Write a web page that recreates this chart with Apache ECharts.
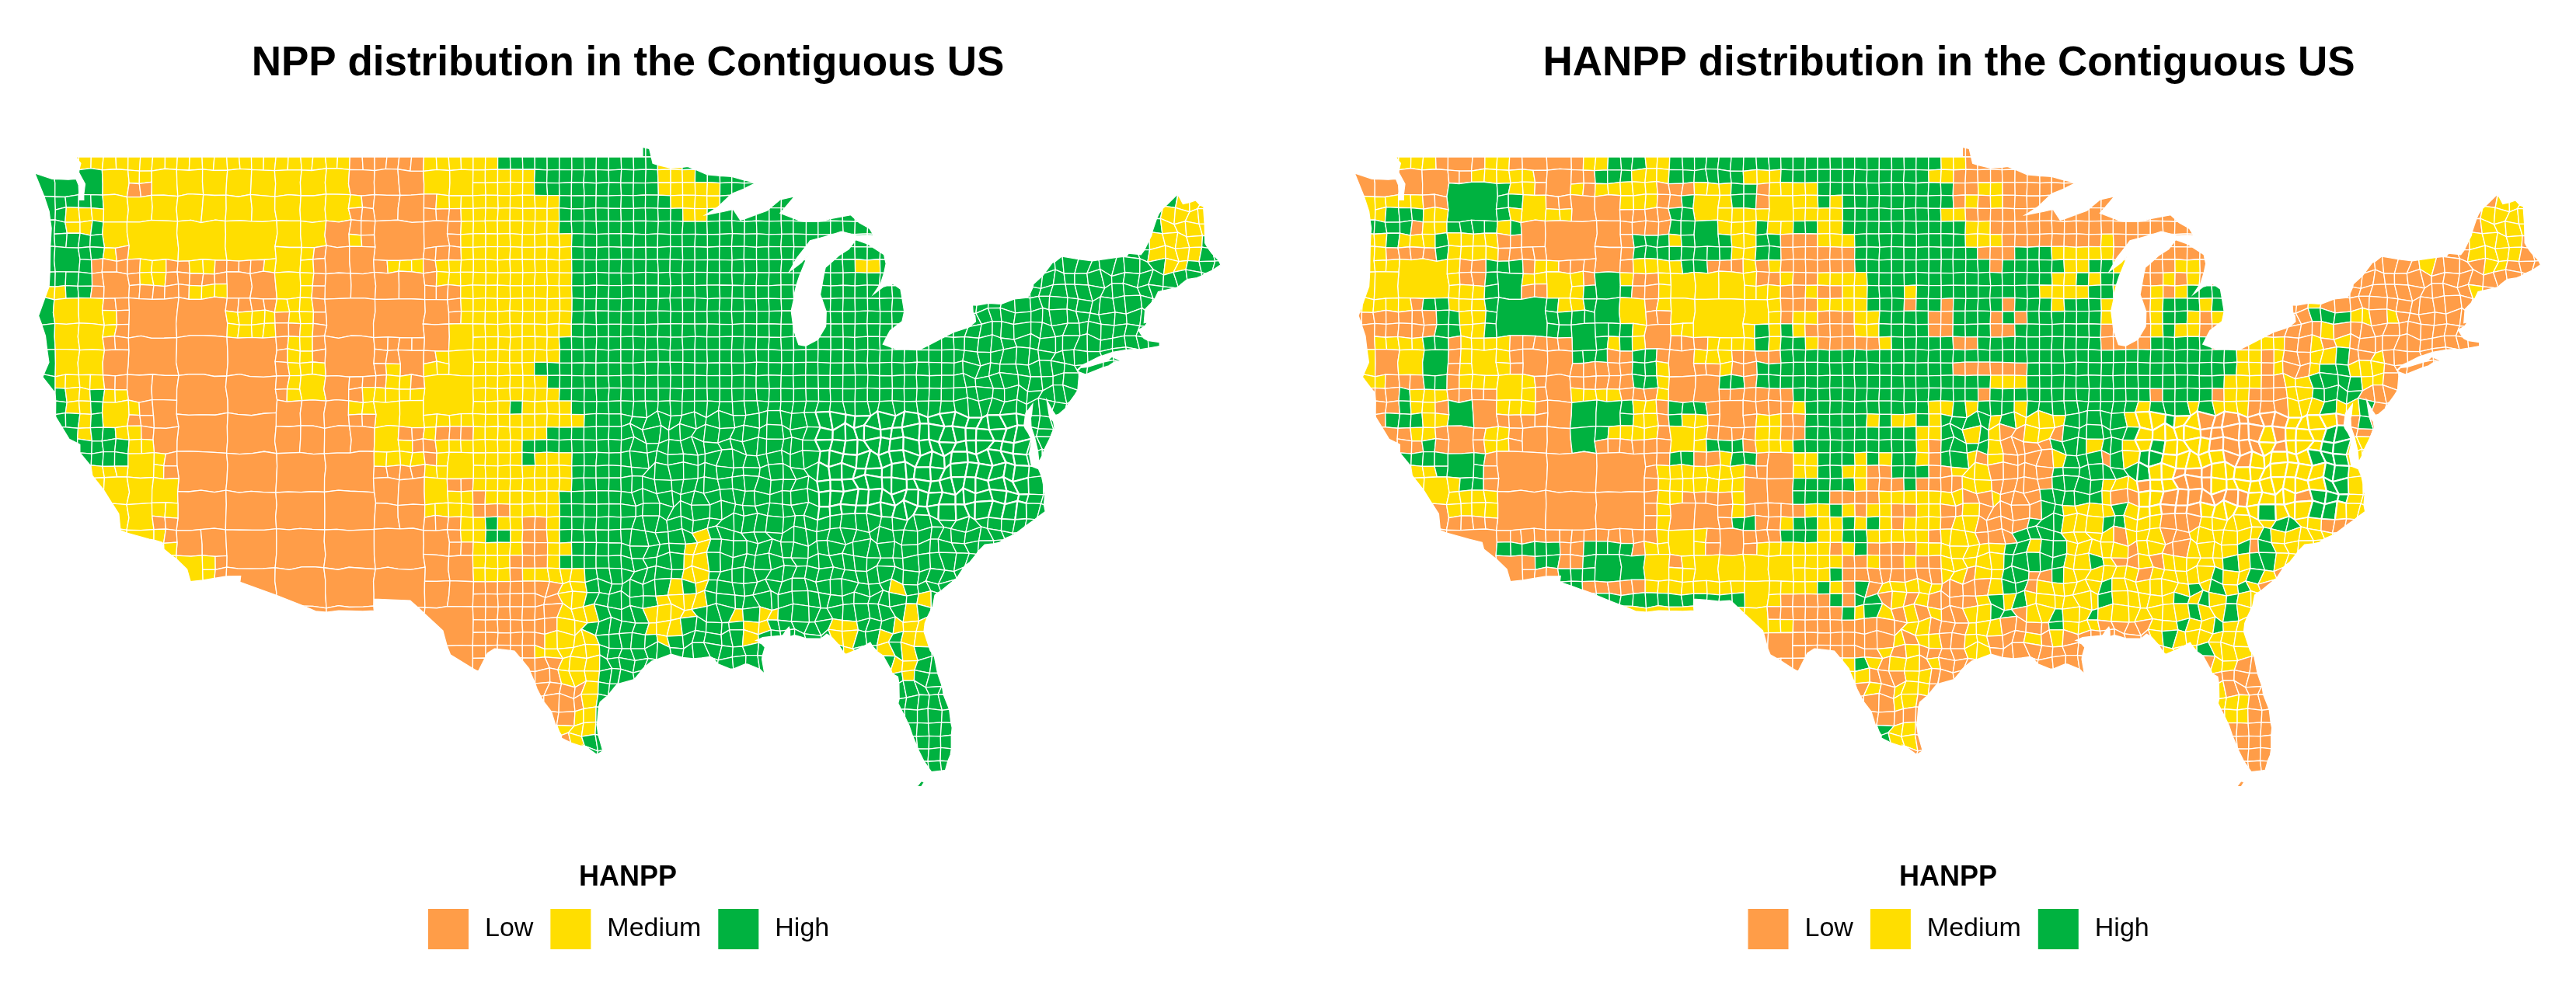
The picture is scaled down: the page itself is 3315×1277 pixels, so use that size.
<!DOCTYPE html>
<html><head><meta charset="utf-8">
<style>html,body{margin:0;padding:0;background:#fff}#c{width:3315px;height:1277px}</style>
<script src="https://cdn.jsdelivr.net/npm/echarts@6/dist/echarts.min.js"></script>
</head><body><div id="c"></div>
<script>
const classNames = ['Low','Medium','High'];
const classColors = ['#FF9D48','#FFDE00','#00B240'];
const panelTitles = ['NPP distribution in the Contiguous US','HANPP distribution in the Contiguous US'];
const legendTitle = 'HANPP';

// coastline and borders, [lon, lat]
const mainland = [[-124.73,48.38],[-123.9,48.16],[-123.1,48.15],[-122.75,48.15],[-122.65,47.9],[-122.55,47.3],[-122.35,47.3],[-122.35,47.95],[-122.6,48.4],[-122.5,48.75],[-122.75,49],[-95.15,49],[-95.15,49.38],[-94.82,49.32],[-94.65,48.75],[-93.8,48.55],[-92.95,48.62],[-92,48.3],[-90.8,48.23],[-89.6,48],[-90.8,47.55],[-91.5,47.05],[-92.1,46.75],[-91.2,46.87],[-90.75,46.95],[-90.4,46.55],[-89.1,46.9],[-88.45,47.35],[-87.75,47.45],[-88.45,46.8],[-87.4,46.5],[-86.5,46.5],[-85,46.75],[-84.6,46.45],[-84.1,46.2],[-83.9,45.95],[-84.7,45.95],[-85.5,46.08],[-86.5,45.85],[-87,45.75],[-87.6,45.1],[-88,44.55],[-87.4,44.9],[-87.05,45.25],[-87.5,44.4],[-87.75,43.7],[-87.9,43],[-87.8,42.3],[-87.55,41.7],[-87.2,41.65],[-86.6,41.9],[-86.25,42.4],[-86.2,43],[-86.5,43.65],[-86.25,44.7],[-85.6,45.15],[-85.1,45.4],[-84.75,45.78],[-84.2,45.62],[-83.4,45.2],[-83.3,44.85],[-83.55,44.05],[-83.9,43.65],[-83.4,43.95],[-82.95,44.07],[-82.6,43.85],[-82.42,43],[-82.5,42.6],[-83.1,42.25],[-83.45,41.72],[-82.7,41.5],[-81.7,41.5],[-80.5,41.97],[-79,42.65],[-78.9,42.9],[-79.05,43.27],[-77.6,43.27],[-76.5,43.5],[-76.2,44.1],[-75.3,44.85],[-74.7,45],[-71.5,45],[-71.4,45.25],[-70.85,45.25],[-70.3,45.9],[-70,46.7],[-69.23,47.46],[-68.9,47.18],[-68.3,47.35],[-67.8,47.07],[-67.8,45.7],[-67.45,45.3],[-67,44.85],[-68.2,44.3],[-69,44.1],[-70,43.8],[-70.7,43.05],[-70.8,42.6],[-70.6,42.65],[-71,42.3],[-70.6,41.95],[-70,41.78],[-70,41.65],[-70.65,41.55],[-71.4,41.45],[-72.9,41.25],[-73.65,41],[-74,40.7],[-74,40.4],[-74.1,39.75],[-74.9,38.95],[-75.5,39.5],[-75.1,38.8],[-75.2,38],[-75.95,37.15],[-76,37.9],[-76.2,38.9],[-76.1,39.4],[-76.45,39.1],[-76.45,38.4],[-76.3,37.9],[-76.3,37],[-75.98,36.9],[-75.5,35.25],[-76.5,34.65],[-77.9,33.9],[-78.55,33.85],[-79.2,33.2],[-80,32.55],[-81,31.9],[-81.4,30.8],[-81.25,29.8],[-80.55,28.45],[-80.03,26.8],[-80.15,25.75],[-80.4,25.15],[-81.1,25.12],[-81.75,25.95],[-82.2,26.9],[-82.75,27.8],[-82.65,28.8],[-83.4,29.5],[-84,30.1],[-85.3,29.68],[-86.2,30.4],[-87.5,30.3],[-88,30.25],[-88,30.65],[-88.3,30.35],[-89.4,30.3],[-89.7,30.15],[-89.3,29.9],[-89.4,29.4],[-89.1,29],[-90.1,29.15],[-90.9,29.1],[-91.8,29.5],[-92.3,29.55],[-93.8,29.7],[-94.7,29.4],[-95.2,28.95],[-96.4,28.4],[-97.2,27.7],[-97.35,26.9],[-97.15,25.96],[-97.4,25.84],[-98.2,26.05],[-99.1,26.4],[-99.5,27.5],[-100.3,28.3],[-100.7,29.1],[-101.4,29.77],[-102.35,29.87],[-102.7,29.7],[-103.15,28.98],[-104.5,29.65],[-104.9,30.6],[-106.5,31.75],[-108.2,31.78],[-108.2,31.33],[-111.07,31.33],[-114.8,32.5],[-114.72,32.72],[-117.12,32.53],[-117.3,33],[-118.4,33.75],[-118.5,34.03],[-119.2,34.15],[-120.5,34.45],[-120.65,35.15],[-121.9,36.6],[-122,36.95],[-122.5,37.5],[-122.5,37.8],[-123,38],[-123.7,38.9],[-123.8,39.8],[-124.4,40.4],[-124.1,41],[-124.2,42],[-124.55,42.85],[-124.1,44],[-123.95,46.2],[-124.1,46.9]];
const longIsland = [[-74.03,40.6],[-73.75,40.87],[-72.6,40.98],[-72.3,41.15],[-71.9,41.05],[-72.5,40.82],[-73.5,40.58]];
const keyWest = [[-81.85,24.55],[-81.6,24.75],[-81.45,24.72],[-81.6,24.55]];

// rows from 49.5N, 0.5 degrees each; "12M" = class M from column 12 (0.6 degrees each from 125W)
const nppRows = ["0H","0M26L32M38H51M53H","0H6M26L32M41H51M54H","0H6M8L10M26L32M41H51M56H","0H6M27L33M43H52M56H93M96H","0H3M26L35M43H53M55H92M96H","0H3M5H6M24L35M43H92M96H","0H6M24L26M27L35M44H91M95H","0H6M7L8M23L35M44H91M95H","0H5L9M11L13M15L19M23L29M32L33M44H67M69H92M94H","0H5L9M11L20M23L33M44H","0M3H5L13M16L20M23L35M44H","0H2M6L20M23L35M44H","0H2M7L16M20L21M23L35M44H","0H2M7L16M20L22M23L34M44H","0H2M6L21M23L34M43H","0H2M6L21M23L33M43H","0H2M6L21M24L29M30L32M41H","0H2M6L21M24L29M31L32M42H","0H3M5H6M8L21M24L27M43H","0H3M5H6M9L26M39H40M44H","0H4M5H6M8L28M45H","0H4M5H7M9L28M30L32M33L36M42H","0H8M10L28M31L33M40H","0H8M11L28M32L33M40H41M44H","0M11L32M44H","0M12L32M34L36M44H","0M12L32M36L37M43H","0M12L32M36L39M43H","0M10L35M37H38M40L42M43H","0M11L35M37H39M40L42M43H54M55H","0M12L36M40L42M44H53M55H","0M15L36M39L42M43H53M55H","0M15L36M39L40M45H53M55H","0L43M45H52M53H54M55H70M71H","0L43M45H51M55H72M73H","0L43M46H50M54H57M58H59M61H71M72H","0L43M45H50M53H58M60H65M67H70M73H","0L42M46H51M52H58M59H65M67H69M70H71M73H","0L41M46H66M67H69M70H71M72H","0L43M46H70M72H","0L43M46H71M72H","0L45M46H","0L45M46H","0L44M46H","0L43M46H","0L44M45H","0H","0H","0H"];
const hanppRows = ["0L","0M7L11M13L19M21H24M26H48M50L","0L10M15L20H23M26H32M35H47M49L","0L8H13M15L18M19L20M25L28M31H33L34M38H48H49L51M53L","0M6L8H14M16L22M25L27H28M31H33L34M38H39M40H48H49L50M51L52M53L93M96L","0M3H6M8H13M18L26H28M40H48M50L92M96L","0H5L6M8H12M13H14L26H30M33H34M36H38M40H50M52L92M96L","0M3H4M7H8M12L23H26M27H31M33H35L38M41H50M53L61M62L91M95L","0M3L7H8M12L23H31M33H35L41H51L54H57M62L91M95L","0M9L11H14L15M17L23M27H29L32M33L34M35L41H52L53H58M60H62M63L67M69L87M88L92M94L","0M9L11H14M19L20H22M23L25M33L35M36L38M42H57M59H60M61H63L66M67L68M69L","0M11H14L16M19H23L25M35L37M38L40M42H45M46H56M60H62M63L65M66L67M68H71L91M92L","0M5L6H8M11H17M19H22M24L25M35L38M42H45L46H48L49H53L54H57M58H61M62L65M66H69M70H71L78M79L","0L7H9M11H22M24L26M35L36M38L41M43H47L49H52L53H54L55H61M62L65M66H68M69L70M71L78H81M83L84M85L","0L7H9M11H23M24L26M33H34M35H36M37L41M43H47L48L49H52L54H61L65M66H67M69L79M80L","0L2M6H8L9M13L18H21M22H23M24L29M33H34M35H37M38L43M44H49L51H61L65H70L73M76L78M79L80M81L","0M2L4M6H8L9M13L18H21L23H25L28M31L35H72M74L75M76L78M80H81L83M84L","0M2L4M6H8L9M13L23H25M26L30M31L33H49L55H72M74L75M76L78M79H81M84L","0M3L6H8L9M15L23H25M26L30H32L33H52M55H71M74L76M78H82M84L","0L4H5M8L12M15L18M22L25M26L36H51L52H65L66H70L71M73L76M78H82L","0L4H5M7L8H10L12M15L18H23M25L26H29L36M37H47M49H50M51H54M55H64M65H68M69H70M73L76M79H80M82H83L","0L3H6M8H10L18H23M25L26H27M29L33M35L37H42M43H44M46H47M48H52M53H54M58H63M66H67M69L76M80L82H83L","0L5M7L11M13L18H21M25L26M29L33M35L37H46M48L48H50M51H52M53L55M57L58H64M69L74M75L76M79H81L","0L6H7L11M13L18H20L26M29H32L33M36H46M47L48H52M53L57H60M61H63M65H66M70L74M75L76M78M79H81M","0H11L26H28L30M31H33L36M38H41M42H43M44H46M47L48H50M51L52M53L57M58H61L62H63M64H66M71L73M78H79H81M","0M7H11L25M32L36M38H40M42L44H47L49M52L57H65M67L70M79H81M","0M9H11L25M32L36H41M42L45H46L50M52L57H61M64L65M67L70M79H81M","0M12L25M27L31M32L36H39L43M48M50L52M53L56H61M62L64M66L73M77L78H81M","0L8M12L25M26L31M32L37M39H40M41L42M44L46M48L50M51L56H58M62H63M66L69M74H75M78H80M","0L25M26L31H33L35M36H38M40H41M42H43M44L45M48L49M51L55H58M61H63M66L69M75H77M79L","0L25M29L35H38M40H42M47L48M51L54H58M62L63M66L68M74H75M","0L12H17L19H23L24M29L33M39L40M41H42L46M53H55M56H58M63L64M66L68M72H73L74H75M","0L15H17L19H24M26L27M40L42M43L45M46L48M53H58M60H61M62L64M65L66M71H72M73H75M","0L17H24M39H40L48M50L51M53H55L57H58M64L65M70H71M73H74M75L","0L17H19L24M38H39M40L41H42L43M48L52M53H55L56M61H62M68H69M70H71M72H73M74L","0H32M35L39H40L41H43L44M45L46M47L51M52H53M54H55M61H62M67H68M69H70M71H72M","0M34L40H41M42H43M44L45M46L47M48L50M52H54L55M57H58M60H61M68H69M71H72M","0M36L45M47L48L50M53L57H58M61L65M67H68M70H71M","0L44M45L46M48L50M52L55M56L57M58L65M66H67M","0L43M44L45M46L50M52L66M69H70M","0L40M41H42M43L44M46L47M48L70M72L","0M42L45M47L","0L42M43L44M47L70M71L","0L44M46L70M73L","0L71M73L","0M43H44M46L","0H44M46L","0L","0L","0L"];

const LON0=-125, LAT0=49.5, DLON=0.6, DLAT=0.5, NCOL=98, NROW=50;
const CODE={L:0,M:1,H:2};

function decodeRows(rows){
  return rows.map(s=>{
    const a=new Array(NCOL).fill(0);
    for(const m of s.matchAll(/(\d+)([LMH])/g)){
      for(let c=+m[1];c<NCOL;c++)a[c]=CODE[m[2]];
    }
    return a;
  });
}
// Sutherland-Hodgman: coastline clipped to a grid rectangle
function clipRect(poly,x0,x1,y0,y1){
  const edges=[[p=>p[0]>=x0,(a,b)=>{const t=(x0-a[0])/(b[0]-a[0]);return [x0,a[1]+t*(b[1]-a[1])]}],
               [p=>p[0]<=x1,(a,b)=>{const t=(x1-a[0])/(b[0]-a[0]);return [x1,a[1]+t*(b[1]-a[1])]}],
               [p=>p[1]>=y0,(a,b)=>{const t=(y0-a[1])/(b[1]-a[1]);return [a[0]+t*(b[0]-a[0]),y0]}],
               [p=>p[1]<=y1,(a,b)=>{const t=(y1-a[1])/(b[1]-a[1]);return [a[0]+t*(b[0]-a[0]),y1]}]];
  let out=poly;
  for(const [inside,cut] of edges){
    const inp=out;out=[];
    for(let i=0;i<inp.length;i++){
      const a=inp[i],b=inp[(i+1)%inp.length],ia=inside(a),ib=inside(b);
      if(ia)out.push(a);
      if(ia!==ib)out.push(cut(a,b));
    }
    if(!out.length)return out;
  }
  return out;
}
function area(p){let s=0;for(let i=0;i<p.length;i++){const a=p[i],b=p[(i+1)%p.length];s+=a[0]*b[1]-b[0]*a[1];}return Math.abs(s/2);}
// county lines: shared grid vertices nudged so that the lines are not ruled
function wobbleAmp(lon,lat){
  if(lat>=48.6)return 0;
  if(lon>-96&&lat<39.5)return lat<28?0.1:0.3;
  if(lon>-80)return 0.28;
  if(lon>-100&&lat<33)return 0.28;
  if(lon<-104)return 0.12;
  return 0.04;
}
function nudge(i,j,k){
  const s=Math.sin(i*12.9898+j*78.233+k*37.719)*43758.5453;
  return (s-Math.floor(s))*2-1;
}
function warp(p){
  const u=(p[0]-LON0)/DLON,v=(LAT0-p[1])/DLAT,i=Math.floor(u),j=Math.floor(v),fx=u-i,fy=v-j;
  let dx=0,dy=0;
  [[0,0,(1-fx)*(1-fy)],[1,0,fx*(1-fy)],[0,1,(1-fx)*fy],[1,1,fx*fy]].forEach(([a,b,w])=>{
    const ii=i+a,jj=j+b,amp=wobbleAmp(LON0+ii*DLON,LAT0-jj*DLAT);
    dx+=w*amp*DLON*nudge(ii,jj,1);dy+=w*amp*DLAT*nudge(ii,jj,2);
  });
  return [p[0]+dx,p[1]+dy];
}
function densify(poly){
  const out=[];
  for(let i=0;i<poly.length;i++){
    const a=poly[i],b=poly[(i+1)%poly.length];
    out.push(a);
    if(a[0]===b[0]&&a[1]!==b[1]){
      const j0=(LAT0-a[1])/DLAT,j1=(LAT0-b[1])/DLAT,st=j1>j0?1:-1;
      let j=st>0?Math.floor(j0+1e-9)+1:Math.ceil(j0-1e-9)-1;
      for(;st>0?j<j1-1e-9:j>j1+1e-9;j+=st)out.push([a[0],LAT0-j*DLAT]);
    }else if(a[1]===b[1]&&a[0]!==b[0]){
      const i0=(a[0]-LON0)/DLON,i1=(b[0]-LON0)/DLON,st=i1>i0?1:-1;
      let k=st>0?Math.floor(i0+1e-9)+1:Math.ceil(i0-1e-9)-1;
      for(;st>0?k<i1-1e-9:k>i1+1e-9;k+=st)out.push([LON0+k*DLON,a[1]]);
    }
  }
  return out;
}
function buildMap(name,rows){
  const grid=decodeRows(rows),features=[],data=[],used=grid.map(r=>r.map(()=>false));
  const lands=[mainland,longIsland,keyWest];
  const sizes=[[4,3],[2,2],[1,1]];
  for(let r=0;r<NROW;r++)for(let c=0;c<NCOL;c++){
    if(used[r][c])continue;
    let w=1,h=1;
    if(c<37){
      for(const [sw,sh] of sizes){
        if(c%sw||r%sh||c+sw>37||r+sh>NROW)continue;
        let ok=true;
        for(let a=r;a<r+sh&&ok;a++)for(let b=c;b<c+sw;b++)if(used[a][b]||grid[a][b]!==grid[r][c]){ok=false;break;}
        if(ok){w=sw;h=sh;break;}
      }
    }
    for(let a=r;a<r+h;a++)for(let b=c;b<c+w;b++)used[a][b]=true;
    const x0=LON0+c*DLON,x1=LON0+(c+w)*DLON,y1=LAT0-r*DLAT,y0=LAT0-(r+h)*DLAT;
    const parts=[];
    for(const land of lands){
      const p=clipRect(land,x0,x1,y0,y1);
      if(p.length>2&&area(p)>0.002){
        const q=densify(p).map(warp);
        q.push(q[0]);
        parts.push([q]);
      }
    }
    if(parts.length){
      const id=name+'_'+r+'_'+c;
      features.push({type:'Feature',properties:{name:id},geometry:{type:'MultiPolygon',coordinates:parts}});
      // the small Appalachian counties leave more white between them
      const appalachia=x0>-87&&x1<-76&&y0>34.5&&y1<39.5;
      const item={name:id,value:grid[r][c]};
      if(appalachia)item.itemStyle={borderWidth:2.2};
      data.push(item);
    }
  }
  echarts.registerMap(name,{type:'FeatureCollection',features});
  return data;
}
const nppData=buildMap('npp',nppRows);
const hanppData=buildMap('hanpp',hanppRows);

const PANEL_SHIFT=1698.5;
function mapSeries(name,data,dx){
  return {type:'map',map:name,data,silent:true,roam:false,
    boundingCoords:[[-125,49.5],[-66.5,24.5]],aspectScale:0.7985,
    left:38+dx,top:185.45,width:1546.2,height:827.5,
    label:{show:false},
    itemStyle:{borderColor:'#ffffff',borderWidth:1.3},
    emphasis:{disabled:true},select:{disabled:true}};
}
function legendPiece(idx,dx){
  return {type:'piecewise',seriesIndex:idx,orient:'horizontal',left:551+dx,top:1170,
    itemWidth:52,itemHeight:52,itemGap:22,textGap:21,itemSymbol:'rect',selectedMode:false,hoverLink:false,padding:0,
    textStyle:{fontFamily:'Liberation Sans',fontSize:34,color:'#000'},
    pieces:classNames.map((n,i)=>({value:i,label:n,color:classColors[i],symbol:'rect'}))};
}
function titleBlock(text,x,top,size){
  return {text,left:x,top,textAlign:'center',padding:0,
    textStyle:{fontFamily:'Liberation Sans',fontWeight:'bold',fontSize:size,color:'#000'}};
}
const chart=echarts.init(document.getElementById('c'),null,{renderer:'canvas',width:3315,height:1277});
chart.setOption({
  backgroundColor:'#fff',animation:false,
  title:[titleBlock(panelTitles[0],808,56,53),titleBlock(panelTitles[1],2508,56,53),
         titleBlock(legendTitle,808,1112,36),titleBlock(legendTitle,2507,1112,36)],
  tooltip:{show:false},
  visualMap:[legendPiece(0,0),legendPiece(1,PANEL_SHIFT)],
  series:[mapSeries('npp',nppData,0),mapSeries('hanpp',hanppData,PANEL_SHIFT)]
});
</script></body></html>
